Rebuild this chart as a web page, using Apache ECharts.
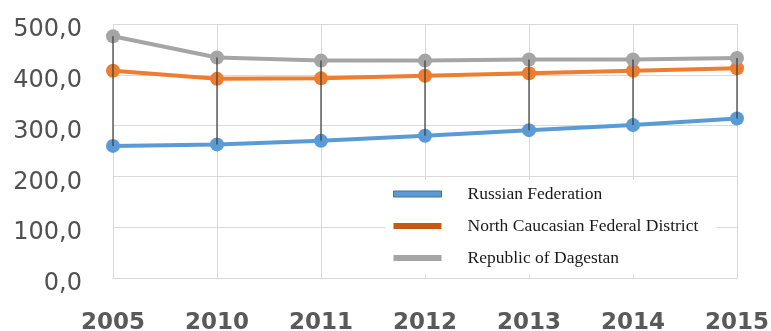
<!DOCTYPE html>
<html>
<head>
    <meta charset="utf-8" />
    <title>Russian Federation / North Caucasus / Dagestan</title>
    <style>
        html, body { margin: 0; padding: 0; background: #fff; }
        #chart { width: 771px; height: 331px; }
    </style>
</head>
<body>
    <div id="chart"></div>
    <script type="text/javascript" src="https://cdn.jsdelivr.net/npm/echarts@6/dist/echarts.min.js"></script>
    <script type="text/javascript">
        // categories (years)
        const years = ['2005', '2010', '2011', '2012', '2013', '2014', '2015'];
        // series values
        const russia = [260, 263, 270, 280, 291, 301, 314];
        const northCaucasus = [408, 392, 393, 398, 403, 408, 413];
        const dagestan = [476, 434, 428, 428, 430, 430, 433];
        // series names
        const names = ['Russian Federation', 'North Caucasian Federal District', 'Republic of Dagestan'];
        const lineColors = ['#5B9BD5', '#ED7D31', '#A5A5A5'];
        const legendColors = ['#5B9BD5', '#C55A11', '#A5A5A5'];

        const chart = echarts.init(document.getElementById('chart'));

        const lineSeries = [russia, northCaucasus, dagestan].map(function (vals, k) {
            return {
                name: names[k],
                type: 'line',
                data: vals,
                symbol: 'circle',
                symbolSize: 14,
                z: 3,
                lineStyle: { width: 4, color: lineColors[k] },
                itemStyle: { color: lineColors[k] },
                emphasis: { disabled: true }
            };
        });

        // high-low lines from top series to bottom series
        const hiLow = {
            type: 'custom',
            z: 5,
            silent: true,
            data: years.map(function (y, i) { return [i, dagestan[i], russia[i]]; }),
            renderItem: function (params, api) {
                const i = api.value(0);
                const p1 = api.coord([i, api.value(1)]);
                const p2 = api.coord([i, api.value(2)]);
                return {
                    type: 'line',
                    shape: { x1: p1[0], y1: p1[1], x2: p2[0], y2: p2[1] },
                    style: { stroke: '#3a3a3a', lineWidth: 1.2 }
                };
            }
        };

        chart.setOption({
            animation: false,
            backgroundColor: '#fff',
            grid: { left: 113, right: 34, top: 24, bottom: 53, outerBoundsMode: 'none' },
            xAxis: {
                type: 'category',
                data: years,
                boundaryGap: false,
                axisLine: { lineStyle: { color: '#D9D9D9', width: 1 } },
                axisTick: { show: false },
                axisLabel: {
                    margin: 34,
                    color: '#595959',
                    fontFamily: 'DejaVu Sans',
                    fontWeight: 'bold',
                    fontSize: 23
                },
                splitLine: { show: true, lineStyle: { color: '#D9D9D9', width: 1 } }
            },
            yAxis: {
                type: 'value',
                min: 0,
                max: 500,
                interval: 100,
                axisLine: { show: false },
                axisTick: { show: false },
                axisLabel: {
                    margin: 31,
                    formatter: function (v) { return '{v|' + v.toFixed(1).replace('.', ',') + '}'; },
                    rich: {
                        v: {
                            color: '#505050',
                            fontFamily: 'DejaVu Sans',
                            fontSize: 24,
                            padding: [12, 0, 0, 0]
                        }
                    }
                },
                splitLine: { lineStyle: { color: '#D9D9D9', width: 1 } }
            },
            legend: {
                orient: 'vertical',
                left: 385,
                top: 180,
                padding: [5, 18, 8, 8],
                backgroundColor: '#fff',
                itemWidth: 48,
                itemHeight: 6,
                itemGap: 14,
                icon: 'rect',
                selectedMode: false,
                textStyle: {
                    fontFamily: 'Liberation Serif',
                    fontSize: 17.5,
                    color: '#1a1a1a',
                    padding: [0, 0, 0, 21]
                },
                data: names.map(function (n, k) {
                    return {
                        name: n,
                        itemStyle: {
                            color: legendColors[k],
                            borderColor: k === 0 ? '#41719C' : legendColors[k],
                            borderWidth: k === 0 ? 1 : 0
                        },
                        lineStyle: { width: 0 }
                    };
                })
            },
            series: lineSeries.concat([hiLow])
        });
    </script>
</body>
</html>
